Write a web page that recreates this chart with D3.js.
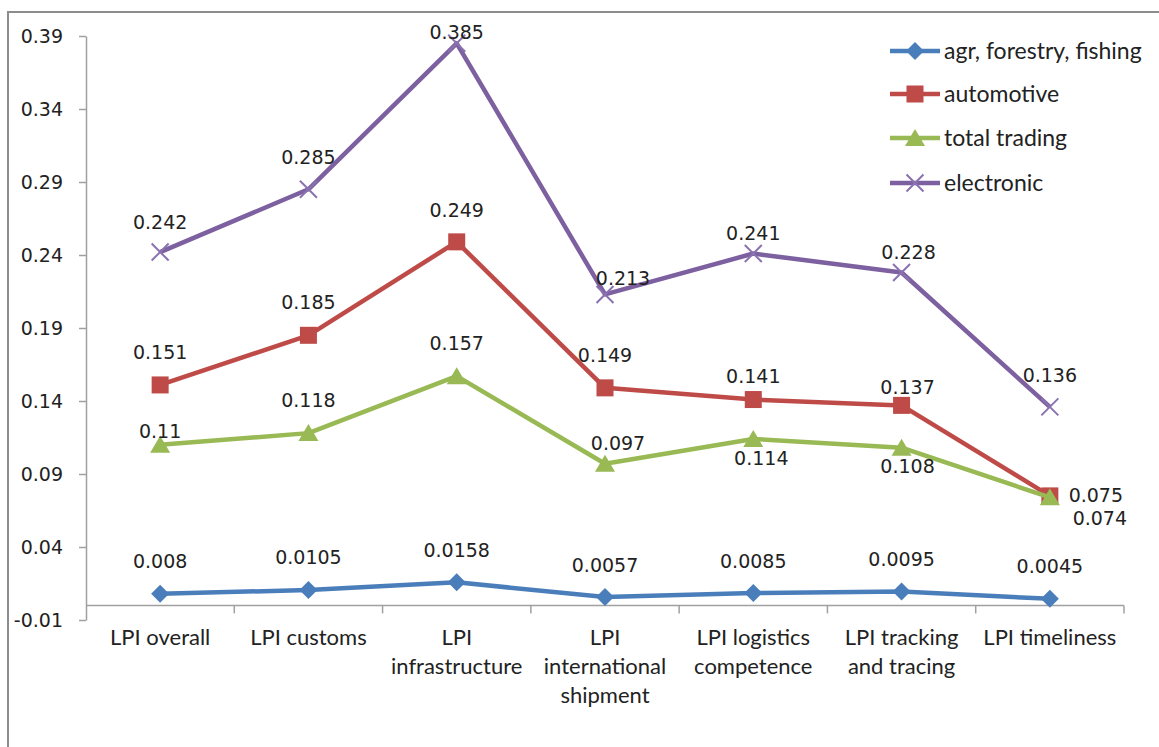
<!DOCTYPE html>
<html><head><meta charset="utf-8">
<script src="https://cdn.jsdelivr.net/npm/d3@7"></script>
<style>body{margin:0;background:#fff;overflow:hidden}</style>
</head><body><svg id="c" width="1159" height="747"></svg>
<script>
// ---- data ----
const categories = ["LPI overall","LPI customs","LPI infrastructure","LPI international shipment","LPI logistics competence","LPI tracking and tracing","LPI timeliness"];
const categoryLines = [["LPI overall"],["LPI customs"],["LPI","infrastructure"],["LPI","international","shipment"],["LPI logistics","competence"],["LPI tracking","and tracing"],["LPI timeliness"]];
const seriesNames = ["agr, forestry, fishing","automotive","total trading","electronic"];
const agr = [0.008,0.0105,0.0158,0.0057,0.0085,0.0095,0.0045];
const automotive = [0.151,0.185,0.249,0.149,0.141,0.137,0.075];
const totalTrading = [0.11,0.118,0.157,0.097,0.114,0.108,0.074];
const electronic = [0.242,0.285,0.385,0.213,0.241,0.228,0.136];
const yTicks = [-0.01,0.04,0.09,0.14,0.19,0.24,0.29,0.34,0.39];
const yTickLabels = ["-0.01","0.04","0.09","0.14","0.19","0.24","0.29","0.34","0.39"];

// ---- layout / style ----
const colors = ["#4a7ebb","#be4b48","#98b954","#7d60a0"];
const markers = ["diamond","square","triangle","x"];
const labelOffsets = [
  [[0,-32],[0,-33],[0,-32],[0,-32],[0,-32],[0,-32],[0,-32]],
  [[0,-33],[0,-33],[0,-32],[0,-33],[0,-23],[6,-18],[46,-1]],
  [[0,-13],[0,-33],[0,-33],[13,-20],[8,19],[6,19],[50,21]],
  [[0,-30],[0,-32],[0,-11],[18,-16],[0,-20],[7,-20],[0,-31]]
];
const seriesData = [agr, automotive, totalTrading, electronic];

const svg = d3.select("#c");
const numFont = "'DejaVu Sans', sans-serif";
const txtFont = "Lato, 'Open Sans', sans-serif";

// outer frame
svg.append("rect").attr("x",8).attr("y",12).attr("width",1200).attr("height",800)
  .attr("fill","none").attr("stroke","#8c8c8c").attr("stroke-width",2);

const y = d3.scaleLinear().domain([-0.01,0.39]).range([620,36]);
const x = d3.scaleBand().domain(categories).range([86,1124]).padding(0);
const cx = c => x(c) + x.bandwidth()/2;

// y axis
const yAxis = d3.axisLeft(y).tickValues(yTicks).tickFormat((d,i)=>yTickLabels[i]).tickSize(7).tickSizeOuter(0).tickPadding(16);
const gy = svg.append("g").attr("transform","translate(86,0)").call(yAxis);
gy.select(".domain").attr("stroke","#a0a0a0").attr("stroke-width",1.5);
gy.selectAll(".tick line").attr("stroke","#a0a0a0").attr("stroke-width",1.5);
gy.selectAll(".tick text").attr("font-family",numFont).attr("font-size",19).attr("fill","#222");

// x axis line at 0
const y0 = y(0);
svg.append("line").attr("x1",86).attr("x2",1124).attr("y1",y0).attr("y2",y0)
  .attr("stroke","#a0a0a0").attr("stroke-width",1.5);
const bounds = categories.map(c=>x(c)).concat([x.range()[1]]);
svg.selectAll(".xt").data(bounds.slice(1)).join("line")
  .attr("x1",d=>d).attr("x2",d=>d).attr("y1",y0).attr("y2",y0+8)
  .attr("stroke","#a0a0a0").attr("stroke-width",1.5);

// category labels
categories.forEach((c,i)=>{
  const t = svg.append("text").attr("x",cx(c)).attr("y",637).attr("text-anchor","middle")
    .attr("font-family",txtFont).attr("font-size",22).attr("fill","#222");
  categoryLines[i].forEach((ln,j)=>{
    t.append("tspan").attr("x",cx(c)).attr("y",637 + j*29).attr("dy","0.35em").text(ln);
  });
});

// marker drawing
function drawMarker(g, type, px, py, color){
  if(type==="diamond"){
    const s=9;
    g.append("path").attr("d",`M${px},${py-s}L${px+s},${py}L${px},${py+s}L${px-s},${py}Z`).attr("fill",color);
  } else if(type==="square"){
    g.append("rect").attr("x",px-8.5).attr("y",py-8.5).attr("width",17).attr("height",17).attr("fill",color);
  } else if(type==="triangle"){
    g.append("path").attr("d",`M${px},${py-9} L${px+10},${py+8} L${px-10},${py+8} Z`).attr("fill",color);
  } else {
    const s=8.5;
    g.append("path").attr("d",`M${px-s},${py-s}L${px+s},${py+s}M${px-s},${py+s}L${px+s},${py-s}`)
      .attr("stroke","#8a72b0").attr("stroke-width",2).attr("fill","none");
  }
}

const line = d3.line().x((d,i)=>cx(categories[i])).y(d=>y(d));
seriesData.forEach((vals,si)=>{
  const g = svg.append("g");
  g.append("path").attr("d",line(vals)).attr("fill","none").attr("stroke",colors[si])
    .attr("stroke-width",4.5).attr("stroke-linejoin","round");
  vals.forEach((v,i)=>drawMarker(g, markers[si], cx(categories[i]), y(v), colors[si]));
});

// data labels
seriesData.forEach((vals,si)=>{
  vals.forEach((v,i)=>{
    const o = labelOffsets[si][i];
    svg.append("text").attr("x",cx(categories[i])+o[0]).attr("y",y(v)+o[1]).attr("dy","0.35em")
      .attr("text-anchor","middle").attr("font-family",numFont).attr("font-size",19).attr("fill","#222")
      .text(String(v));
  });
});

// legend
const legY = [51,94,138,183];
seriesNames.forEach((n,si)=>{
  const g = svg.append("g");
  g.append("line").attr("x1",890).attr("x2",940).attr("y1",legY[si]).attr("y2",legY[si])
    .attr("stroke",colors[si]).attr("stroke-width",4.5);
  drawMarker(g, markers[si], 915, legY[si], colors[si]);
  g.append("text").attr("x",944).attr("y",legY[si]).attr("dy","0.35em")
    .attr("font-family",txtFont).attr("font-size",23).attr("fill","#222").text(n);
});
</script></body></html>
